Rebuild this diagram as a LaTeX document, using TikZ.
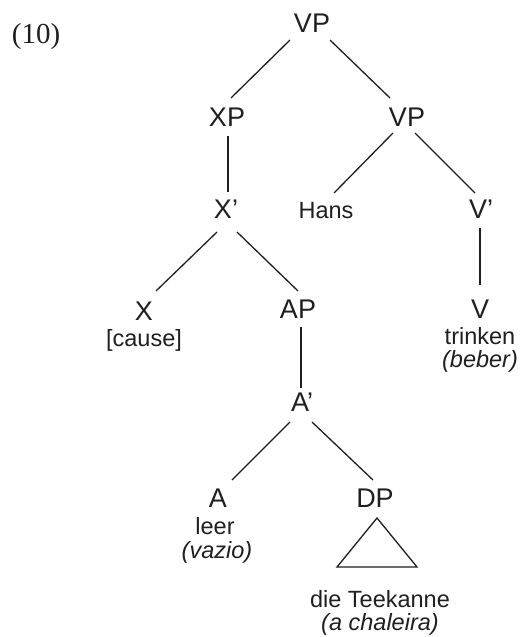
\documentclass[tikz,border=0pt]{standalone}
\usepackage{fontspec}
\setmainfont{Liberation Serif}
\newfontfamily\arialfont{Liberation Sans}
\usetikzlibrary{calc}
\begin{document}
\begin{tikzpicture}[x=1pt,y=-1pt,
  cat/.style={anchor=base,inner sep=0pt,text=black!88,font=\arialfont\fontsize{27}{30}\selectfont},
  word/.style={anchor=base,inner sep=0pt,text=black!88,font=\arialfont\fontsize{23.5}{26}\selectfont},
  exnum/.style={anchor=base,inner sep=0pt,text=black!88,font=\fontsize{29}{32}\selectfont},
  edge/.style={line width=1.3pt,draw=black!88}]
\useasboundingbox (0,0) rectangle (520,637);
% nodes
\node[exnum] (ex) at (36,43) {(10)};
\node[cat] (vp) at (312,32) {VP};
\node[cat] (xp) at (227,126) {XP};
\node[cat] (vp2) at (407,126) {VP};
\node[cat] (xbar) at (226,218) {X’};
\node[word] (hans) at (326,218) {Hans};
\node[cat] (vbar) at (481,218) {V’};
\node[cat] (x) at (144,320) {X};
\node[word] (cause) at (144,346) {[cause]};
\node[cat] (ap) at (298,318) {AP};
\node[cat] (v) at (480,318) {V};
\node[word] (trinken) at (480,344) {trinken};
\node[word] (beber) at (480,367) {\itshape (beber)};
\node[cat] (abar) at (302,411) {A’};
\node[cat] (a) at (218,507) {A};
\node[word] (leer) at (215,534) {leer};
\node[word] (vazio) at (217,558) {\itshape (vazio)};
\node[cat] (dp) at (375,507) {DP};
\node[word] (teekanne) at (380,607) {die Teekanne};
\node[word] (chaleira) at (380,630) {\itshape (a chaleira)};
% connectors
\draw[edge] ($(vp.base)+(-22,8)$) -- ($(xp.base)+(4,-28)$);
\draw[edge] ($(vp.base)+(18,8)$) -- ($(vp2.base)+(-17,-28)$);
\draw[edge] ($(xp.base)+(1,10)$) -- ($(xbar.base)+(2,-26)$);
\draw[edge] ($(vp2.base)+(-14,7)$) -- ($(hans.base)+(8,-25)$);
\draw[edge] ($(vp2.base)+(8,7)$) -- ($(vbar.base)+(-6,-25)$);
\draw[edge] ($(xbar.base)+(-9,14)$) -- ($(x.base)+(12,-29)$);
\draw[edge] ($(xbar.base)+(11,14)$) -- ($(ap.base)+(0,-27)$);
\draw[edge] ($(ap.base)+(3,9)$) -- ($(abar.base)+(-1,-23)$);
\draw[edge] ($(vbar.base)+(-1,10)$) -- ($(v.base)+(0,-33)$);
\draw[edge] ($(abar.base)+(-12,11)$) -- ($(a.base)+(14,-27)$);
\draw[edge] ($(abar.base)+(10,11)$) -- ($(dp.base)+(-2,-27)$);
\draw[edge,line join=miter] ($(dp.base)+(2,11)$) -- ($(dp.base)+(-38,60)$) -- ($(dp.base)+(42,60)$) -- cycle;
\end{tikzpicture}
\end{document}
